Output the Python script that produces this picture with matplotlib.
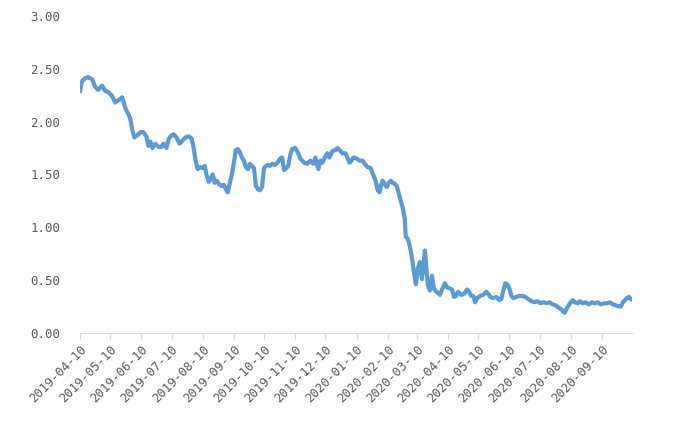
import numpy as np
import pandas as pd
import matplotlib
matplotlib.use("Agg")
import matplotlib.pyplot as plt
import matplotlib.dates as mdates

# 读图估计的数据（日期, 数值）
dates = [
    "2019-04-10", "2019-04-12", "2019-04-15", "2019-04-18", "2019-04-22", "2019-04-25", "2019-04-28",
    "2019-05-02", "2019-05-05", "2019-05-08", "2019-05-12", "2019-05-15", "2019-05-18", "2019-05-22",
    "2019-05-25", "2019-05-28", "2019-05-30", "2019-06-01", "2019-06-03", "2019-06-06", "2019-06-09",
    "2019-06-12", "2019-06-15", "2019-06-17", "2019-06-19", "2019-06-21", "2019-06-24", "2019-06-27",
    "2019-06-30", "2019-07-02", "2019-07-05", "2019-07-07", "2019-07-09", "2019-07-12", "2019-07-15",
    "2019-07-17", "2019-07-18", "2019-07-21", "2019-07-24", "2019-07-27", "2019-07-30", "2019-08-01",
    "2019-08-03", "2019-08-05", "2019-08-07", "2019-08-10", "2019-08-12", "2019-08-14", "2019-08-16",
    "2019-08-18", "2019-08-20", "2019-08-22", "2019-08-24", "2019-08-26", "2019-08-29", "2019-08-31",
    "2019-09-02", "2019-09-04", "2019-09-06", "2019-09-08", "2019-09-10", "2019-09-12", "2019-09-14",
    "2019-09-16", "2019-09-18", "2019-09-20", "2019-09-22", "2019-09-24", "2019-09-26", "2019-09-28",
    "2019-09-30", "2019-10-02", "2019-10-04", "2019-10-06", "2019-10-08", "2019-10-10", "2019-10-12",
    "2019-10-14", "2019-10-16", "2019-10-18", "2019-10-21", "2019-10-24", "2019-10-26", "2019-10-28",
    "2019-10-30", "2019-11-01", "2019-11-03", "2019-11-05", "2019-11-07", "2019-11-10", "2019-11-13",
    "2019-11-15", "2019-11-17", "2019-11-19", "2019-11-22", "2019-11-25", "2019-11-28", "2019-11-30",
    "2019-12-03", "2019-12-05", "2019-12-07", "2019-12-10", "2019-12-12", "2019-12-14", "2019-12-17",
    "2019-12-20", "2019-12-22", "2019-12-25", "2019-12-27", "2019-12-30", "2020-01-01", "2020-01-03",
    "2020-01-05", "2020-01-07", "2020-01-10", "2020-01-13", "2020-01-16", "2020-01-18", "2020-01-21",
    "2020-01-24", "2020-01-26", "2020-01-29", "2020-01-31", "2020-02-02", "2020-02-03", "2020-02-05",
    "2020-02-07", "2020-02-09", "2020-02-11", "2020-02-13", "2020-02-15", "2020-02-17", "2020-02-19",
    "2020-02-21", "2020-02-23", "2020-02-25", "2020-02-27", "2020-02-28", "2020-03-01", "2020-03-03",
    "2020-03-05", "2020-03-07", "2020-03-09", "2020-03-11", "2020-03-13", "2020-03-15", "2020-03-16",
    "2020-03-18", "2020-03-20", "2020-03-21", "2020-03-23", "2020-03-25", "2020-03-27", "2020-03-29",
    "2020-03-31", "2020-04-02", "2020-04-04", "2020-04-07", "2020-04-09", "2020-04-12", "2020-04-14",
    "2020-04-16", "2020-04-18", "2020-04-20", "2020-04-23", "2020-04-26", "2020-04-29", "2020-05-01",
    "2020-05-03", "2020-05-05", "2020-05-07", "2020-05-09", "2020-05-12", "2020-05-15", "2020-05-18",
    "2020-05-20", "2020-05-22", "2020-05-25", "2020-05-28", "2020-05-31", "2020-06-02", "2020-06-04",
    "2020-06-06", "2020-06-08", "2020-06-10", "2020-06-12", "2020-06-14", "2020-06-17", "2020-06-20",
    "2020-06-23", "2020-06-26", "2020-06-29", "2020-07-02", "2020-07-05", "2020-07-08", "2020-07-11",
    "2020-07-14", "2020-07-17", "2020-07-20", "2020-07-23", "2020-07-26", "2020-07-29", "2020-08-01",
    "2020-08-04", "2020-08-06", "2020-08-08", "2020-08-10", "2020-08-12", "2020-08-14", "2020-08-17",
    "2020-08-19", "2020-08-22", "2020-08-25", "2020-08-28", "2020-08-31", "2020-09-03", "2020-09-06",
    "2020-09-09", "2020-09-12", "2020-09-15", "2020-09-18", "2020-09-21", "2020-09-24", "2020-09-27",
    "2020-09-29", "2020-10-01", "2020-10-03", "2020-10-05", "2020-10-07", "2020-10-09",
]
values = [
    2.29, 2.38, 2.41, 2.42, 2.40, 2.33, 2.30,
    2.34, 2.29, 2.28, 2.24, 2.18, 2.20, 2.23,
    2.13, 2.07, 2.03, 1.92, 1.85, 1.87, 1.90,
    1.90, 1.86, 1.77, 1.81, 1.75, 1.79, 1.76,
    1.76, 1.79, 1.75, 1.83, 1.86, 1.88, 1.85,
    1.81, 1.79, 1.82, 1.85, 1.86, 1.84, 1.75,
    1.63, 1.55, 1.57, 1.56, 1.58, 1.49, 1.43,
    1.46, 1.50, 1.42, 1.44, 1.41, 1.39, 1.40,
    1.36, 1.33, 1.42, 1.50, 1.61, 1.73, 1.74,
    1.71, 1.66, 1.63, 1.57, 1.55, 1.60, 1.58,
    1.56, 1.39, 1.36, 1.35, 1.38, 1.56, 1.58,
    1.59, 1.58, 1.60, 1.59, 1.62, 1.65, 1.66,
    1.54, 1.56, 1.58, 1.68, 1.74, 1.75, 1.70,
    1.65, 1.63, 1.61, 1.60, 1.63, 1.60, 1.66,
    1.55, 1.63, 1.61, 1.67, 1.70, 1.66, 1.72,
    1.73, 1.75, 1.72, 1.70, 1.70, 1.66, 1.61,
    1.63, 1.66, 1.65, 1.63, 1.63, 1.60, 1.57,
    1.56, 1.51, 1.44, 1.35, 1.33, 1.39, 1.44,
    1.41, 1.38, 1.42, 1.44, 1.42, 1.41, 1.39,
    1.32, 1.25, 1.18, 1.08, 0.91, 0.89, 0.82,
    0.72, 0.58, 0.46, 0.61, 0.67, 0.51, 0.59,
    0.78, 0.55, 0.45, 0.40, 0.54, 0.42, 0.39,
    0.38, 0.36, 0.41, 0.47, 0.43, 0.42, 0.41,
    0.34, 0.35, 0.39, 0.36, 0.37, 0.41, 0.39,
    0.35, 0.35, 0.29, 0.33, 0.35, 0.36, 0.39,
    0.37, 0.34, 0.33, 0.34, 0.31, 0.32, 0.40,
    0.47, 0.46, 0.42, 0.35, 0.33, 0.34, 0.35,
    0.35, 0.34, 0.32, 0.30, 0.29, 0.30, 0.28,
    0.29, 0.28, 0.29, 0.27, 0.26, 0.24, 0.22,
    0.19, 0.23, 0.26, 0.29, 0.31, 0.29, 0.28,
    0.30, 0.28, 0.29, 0.27, 0.29, 0.28, 0.29,
    0.27, 0.28, 0.28, 0.29, 0.27, 0.26, 0.25,
    0.25, 0.29, 0.31, 0.33, 0.34, 0.32,
]

tick_dates = pd.date_range("2019-04-01", "2020-09-01", freq="MS") + pd.Timedelta(days=9)
y_ticks = [0.0, 0.5, 1.0, 1.5, 2.0, 2.5, 3.0]

x = pd.to_datetime(dates)

fig = plt.figure(figsize=(6.84, 4.29), dpi=100)
ax = fig.add_axes([0.117, 0.224, 0.807, 0.739])
ax.plot(x, values, color="#5B9BD5", lw=3, solid_joinstyle="round")

ax.set_xlim(pd.Timestamp("2019-04-10"), pd.Timestamp("2020-10-10"))
ax.set_ylim(0, 3)
ax.set_yticks(y_ticks)
ax.set_yticklabels([f"{v:.2f}" for v in y_ticks])
ax.set_xticks(tick_dates)
ax.set_xticklabels([d.strftime("%Y-%m-%d") for d in tick_dates],
                   rotation=45, ha="right", rotation_mode="anchor")

for s in ["top", "right", "left"]:
    ax.spines[s].set_visible(False)
ax.spines["bottom"].set_color("#d9d9d9")
ax.tick_params(axis="y", length=0, pad=14, labelsize=9, labelcolor="#595959")
ax.tick_params(axis="x", length=4, color="#d9d9d9", pad=3, labelsize=9, labelcolor="#595959")
for lab in ax.get_xticklabels() + ax.get_yticklabels():
    lab.set_family("DejaVu Sans Mono")

fig.savefig("out.png", dpi=100)
